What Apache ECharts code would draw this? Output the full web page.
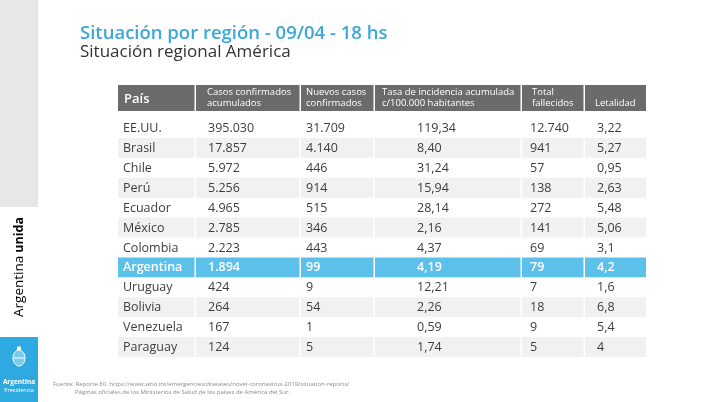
<!DOCTYPE html>
<html>
<head>
<meta charset="utf-8">
<script src="https://cdn.jsdelivr.net/npm/echarts@6/dist/echarts.min.js"></script>
<style>
  html, body { margin: 0; padding: 0; background: #fff; }
  #tabla { width: 720px; height: 402px; }
</style>
</head>
<body>
<div id="tabla"></div>
<script>
// datos de la tabla
const countries = ['EE.UU.', 'Brasil', 'Chile', 'Perú', 'Ecuador', 'México', 'Colombia', 'Argentina', 'Uruguay', 'Bolivia', 'Venezuela', 'Paraguay'];
const casosAcumulados = [395030, 17857, 5972, 5256, 4965, 2785, 2223, 1894, 424, 264, 167, 124];
const nuevosCasos = [31709, 4140, 446, 914, 515, 346, 443, 99, 9, 54, 1, 5];
const tasaIncidencia = [119.34, 8.40, 31.24, 15.94, 28.14, 2.16, 4.37, 4.19, 12.21, 2.26, 0.59, 1.74];
const fallecidos = [12740, 941, 57, 138, 272, 141, 69, 79, 7, 18, 9, 5];
const letalidad = [3.22, 5.27, 0.95, 2.63, 5.48, 5.06, 3.1, 4.2, 1.6, 6.8, 5.4, 4];
const headers = ['País', 'Casos confirmados\nacumulados', 'Nuevos casos\nconfirmados', 'Tasa de incidencia acumulada\nc/100.000 habitantes', 'Total\nfallecidos', 'Letalidad'];

// layout de columnas (px dentro de la tabla)
const tableWidth = 528;
const colEdges = [0, 78, 183, 257, 404, 467, 528];
const bodyTextX = [5, 90, 188, 299, 412, 479];
const headTextX = [6, 89, 188, 264, 414, 477];

const FONT = '"Open Sans", "Noto Sans", sans-serif';

function fmtInt(n) {
  return String(n).replace(/\B(?=(\d{3})+(?!\d))/g, '.');
}
function fmtDec(n, fixed) {
  return (fixed ? n.toFixed(2) : String(n)).replace('.', ',');
}
function cellText(c, r) {
  switch (c) {
    case 0: return countries[r];
    case 1: return fmtInt(casosAcumulados[r]);
    case 2: return fmtInt(nuevosCasos[r]);
    case 3: return fmtDec(tasaIncidencia[r], true);
    case 4: return fmtInt(fallecidos[r]);
    default: return fmtDec(letalidad[r], false);
  }
}

const bodyData = [];
countries.forEach((name, r) => {
  for (let c = 0; c < headers.length; c++) bodyData.push([c, r]);
});
const headData = headers.map((h, c) => [c, 0]);

function renderBody(params, api) {
  const c = api.value(0);
  const r = api.value(1);
  const left = api.coord([colEdges[c], r]);
  const right = api.coord([colEdges[c + 1], r]);
  const h = api.size([0, 1])[1];
  const isArg = countries[r] === 'Argentina';
  let fill = null;
  if (isArg) fill = '#5cc1ea';
  else if (r % 2 === 1) fill = '#f1f1f1';
  const children = [];
  if (fill) {
    children.push({
      type: 'rect',
      shape: { x: left[0], y: left[1] - h / 2, width: right[0] - left[0] - (c < 5 ? 1.5 : 0), height: h },
      style: { fill },
    });
  }
  children.push({
    type: 'text',
    x: api.coord([bodyTextX[c], r])[0],
    y: left[1] + 0.5,
    style: {
      text: cellText(c, r),
      fill: isArg ? '#ffffff' : '#3d3d3d',
      fontSize: 12.5,
      fontWeight: isArg ? 600 : 'normal',
      fontFamily: FONT,
      verticalAlign: 'middle',
    },
  });
  return { type: 'group', children };
}

function renderHead(params, api) {
  const c = api.value(0);
  const left = api.coord([colEdges[c], 0]);
  const right = api.coord([colEdges[c + 1], 0]);
  const h = api.size([0, 1])[1];
  const isPais = c === 0;
  return {
    type: 'group',
    children: [
      {
        type: 'rect',
        shape: { x: left[0], y: left[1] - h / 2, width: right[0] - left[0] - (c < 5 ? 1.5 : 0), height: h },
        style: { fill: '#6b6b6b' },
      },
      {
        type: 'text',
        x: api.coord([headTextX[c], 0])[0],
        y: isPais ? left[1] + 1 : left[1] + (headers[c].indexOf('\n') < 0 ? 5 : 0),
        style: {
          text: headers[c],
          fill: '#ffffff',
          fontSize: isPais ? 13 : 9.5,
          lineHeight: 11,
          fontWeight: isPais ? 600 : 'normal',
          fontFamily: FONT,
          verticalAlign: 'middle',
        },
      },
    ],
  };
}

const chart = echarts.init(document.getElementById('tabla'), null, { renderer: 'canvas' });

chart.setOption({
  backgroundColor: '#ffffff',
  animation: false,
  title: [
    {
      text: 'Situación por región - 09/04 - 18 hs',
      left: 75, top: 19,
      textStyle: { color: '#3aa8d9', fontSize: 18.5, fontWeight: 600, fontFamily: FONT },
    },
    {
      text: 'Situación regional América',
      left: 75, top: 39,
      textStyle: { color: '#333333', fontSize: 17, fontWeight: 'normal', fontFamily: FONT },
    },
  ],
  grid: [
    { left: 118, width: tableWidth, top: 118, height: 239 },
    { left: 118, width: tableWidth, top: 85, height: 26 },
  ],
  xAxis: [
    { type: 'value', gridIndex: 0, min: 0, max: tableWidth, show: false },
    { type: 'value', gridIndex: 1, min: 0, max: tableWidth, show: false },
  ],
  yAxis: [
    { type: 'category', gridIndex: 0, data: countries, inverse: true, show: false },
    { type: 'category', gridIndex: 1, data: ['header'], show: false },
  ],
  series: [
    { type: 'custom', xAxisIndex: 0, yAxisIndex: 0, renderItem: renderBody, data: bodyData, silent: true },
    { type: 'custom', xAxisIndex: 1, yAxisIndex: 1, renderItem: renderHead, data: headData, silent: true },
  ],
  graphic: [
    // barra lateral
    { type: 'rect', left: 0, top: 0, shape: { width: 38, height: 207 }, style: { fill: '#e7e7e7' } },
    {
      type: 'text',
      x: 19, y: 267,
      rotation: Math.PI / 2,
      style: {
        text: '{a|Argentina}{b|unida}',
        align: 'center',
        verticalAlign: 'middle',
        rich: {
          a: { fontSize: 13.5, color: '#222222', fontFamily: FONT, padding: [0, 3, 0, 0] },
          b: { fontSize: 12.5, color: '#3aa8d9', fontWeight: 'bold', fontFamily: FONT },
        },
      },
    },
    { type: 'rect', left: 0, top: 337, shape: { width: 38, height: 65 }, style: { fill: '#2eaae1' } },
    { type: 'ellipse', shape: { cx: 19, cy: 358, rx: 6, ry: 8 }, style: { fill: '#7ccbef', stroke: '#ffffff', lineWidth: 1 } },
    { type: 'circle', shape: { cx: 19, cy: 348.5, r: 2.2 }, style: { fill: '#ffffff' } },
    { type: 'rect', shape: { x: 13.5, y: 357.5, width: 11, height: 1 }, style: { fill: '#ffffff' } },
    {
      type: 'text', x: 19, y: 382,
      style: { text: 'Argentina', fill: '#ffffff', fontSize: 6.5, fontWeight: 'bold', fontFamily: FONT, align: 'center', verticalAlign: 'middle' },
    },
    {
      type: 'text', x: 19, y: 390,
      style: { text: 'Presidencia', fill: '#ffffff', fontSize: 5.5, fontFamily: FONT, align: 'center', verticalAlign: 'middle' },
    },
    // fuente
    {
      type: 'text', x: 53, y: 384,
      style: { text: 'Fuente: Reporte 80. https://www.who.int/emergencies/diseases/novel-coronavirus-2019/situation-reports/', fill: '#8a8a8a', fontSize: 6, fontFamily: FONT, verticalAlign: 'middle' },
    },
    {
      type: 'text', x: 75, y: 392,
      style: { text: 'Páginas oficiales de los Ministerios de Salud de los países de América del Sur.', fill: '#8a8a8a', fontSize: 6, fontFamily: FONT, verticalAlign: 'middle' },
    },
  ],
});
</script>
</body>
</html>
